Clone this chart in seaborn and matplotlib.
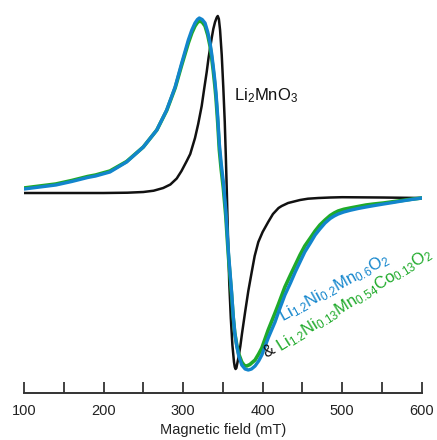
import numpy as np
import pandas as pd
import matplotlib
matplotlib.use("Agg")
import matplotlib.pyplot as plt
import seaborn as sns

# EPR derivative spectra (arbitrary units) vs magnetic field (mT)
li2mno3_field = [100, 150, 200, 230, 250, 263, 275, 284, 292, 298, 304.6, 309, 315,
                 319, 323.4, 326.5, 329.7, 332, 334, 336, 338, 340.2, 342.3, 343.6,
                 345, 346.5, 348.6, 350.6, 352.4, 353.7, 355, 356.5, 358, 360, 362,
                 364, 365, 366, 367, 368, 369.5, 372, 374, 378, 382, 386.3, 390,
                 394.6, 400, 403.5, 407, 410, 413, 416.5, 420, 424, 428, 432, 437,
                 447, 457, 470, 485, 500, 550, 600]
li2mno3_signal = [3, 3, 3, 3.3, 4, 5.3, 8, 11.5, 17.5, 25, 35, 42, 58,
                  72, 90, 107, 124, 138, 148, 158, 167, 174, 178.5, 180,
                  177, 166, 141, 108, 74, 41, 4, -42, -86, -122, -149,
                  -166, -171, -173, -172, -168, -162, -150, -138, -116, -95, -76, -60,
                  -46, -36, -31, -26, -22, -18, -15, -12, -10, -8.5, -7, -6,
                  -4, -2.7, -2, -1.5, -1.2, -1.5, -2]

lnmo_field = [100, 120, 140, 160, 180, 190, 208, 229, 250, 267, 279.4, 290, 298.3,
              306.6, 311, 315, 318, 320.4, 324, 327.6, 331, 333.9, 336, 338, 340,
              341.4, 343.6, 345.6, 348, 350.6, 353.7, 357, 361, 363, 365, 367.5,
              370, 373.8, 378, 382, 386, 390.5, 395, 399, 407, 415.6, 420, 428,
              435, 441, 447, 453, 460, 466, 472, 478.5, 485, 490, 495, 502, 510,
              520, 530, 540, 552, 563, 575, 587, 600]
lnmo_signal = [7, 9, 11, 14.5, 18.5, 20, 24, 34, 49, 66, 86, 109, 133,
               156, 166, 173, 176.5, 178, 176.5, 173, 164, 153, 142, 129, 115,
               103, 79, 52, 32, 14, -14, -56, -96, -120, -137, -150,
               -160, -169, -173, -174, -173, -170, -165, -159, -142, -126, -116, -99,
               -87, -76, -66, -56, -47, -39, -33, -27, -22.5, -20, -18, -16, -14.3,
               -12.5, -11, -9.6, -8, -6.6, -5, -3.5, -2]

lnmco_field = [100, 120, 140, 160, 180, 190, 208, 229, 250, 267, 279.4, 290, 298.3,
               306.6, 311, 315, 318, 320.4, 324, 327.6, 331, 333.9, 336, 338, 340,
               341.4, 343.6, 345.6, 348, 350.6, 353.7, 357, 361, 363, 365, 367.5,
               370, 373.8, 377, 380, 384, 390.5, 395, 399, 407, 415.6, 420, 428,
               435, 441, 447, 453, 460, 466, 472, 478.5, 485, 490, 495, 502, 510,
               520, 530, 540, 552, 563, 575, 587, 600]
lnmco_signal = [8, 10, 12, 15.5, 19.5, 21, 25, 34.5, 49, 66, 85.5, 108, 131,
                153, 163, 170, 173.5, 175, 174, 170, 161, 150, 138, 125, 110,
                98, 73, 46, 26, 8, -20, -60, -99, -121, -137, -149,
                -158, -166, -169.5, -170, -168.5, -164, -158, -152, -134, -117, -108, -91,
                -79, -69, -59, -50, -42, -35, -29, -24, -19.5, -17, -15, -13.3, -12,
                -10.5, -9, -8, -7, -5.8, -4.5, -3.2, -2]

tick_values = [100, 150, 200, 250, 300, 350, 400, 450, 500, 550, 600]
tick_labels = ["100", "", "200", "", "300", "", "400", "", "500", "", "600"]

BLACK = "#111111"
BLUE = "#1285cc"
GREEN = "#1faa2a"

sns.set_theme(style="white")
plt.rcParams["font.family"] = ["Liberation Sans", "DejaVu Sans"]
plt.rcParams["mathtext.fontset"] = "custom"
plt.rcParams["mathtext.rm"] = "Liberation Sans"
plt.rcParams["mathtext.it"] = "Liberation Sans"
plt.rcParams["mathtext.bf"] = "Liberation Sans:bold"

fig = plt.figure(figsize=(4.37, 4.40), dpi=100)
ax = fig.add_axes([0.0549, 0.1061, 0.9101, 0.8939])

df_black = pd.DataFrame({"field": li2mno3_field, "signal": li2mno3_signal})
df_green = pd.DataFrame({"field": lnmco_field, "signal": lnmco_signal})
df_blue = pd.DataFrame({"field": lnmo_field, "signal": lnmo_signal})

line_kw = dict(ax=ax, x="field", y="signal", estimator=None, sort=False)
sns.lineplot(data=df_black, color=BLACK, linewidth=1.8, **line_kw)
sns.lineplot(data=df_green, color=GREEN, linewidth=2.6, **line_kw)
sns.lineplot(data=df_blue, color=BLUE, linewidth=2.4, **line_kw)
for ln in ax.lines:
    ln.set_solid_joinstyle("round")
    ln.set_solid_capstyle("round")

ax.set_xlim(100, 600)
ax.set_ylim(-197.3, 196)

for side in ["left", "top", "right"]:
    ax.spines[side].set_visible(False)
ax.spines["bottom"].set_color("#333333")
ax.spines["bottom"].set_linewidth(1.4)

ax.set_yticks([])
ax.set_xticks(tick_values)
ax.set_xticklabels(tick_labels)
ax.tick_params(axis="x", direction="in", length=8, width=1.3, color="#333333",
               labelsize=10.5, labelcolor="#222222", pad=7.5, bottom=True)
ax.set_xlabel("Magnetic field (mT)", fontsize=10.5, color="#222222", labelpad=3.5)
ax.set_ylabel("")

ax.text(364, 96, r"Li$_2$MnO$_3$", fontsize=12, color=BLACK,
        ha="left", va="baseline")

ax.text(425.7, -126, r"Li$_{1.2}$Ni$_{0.2}$Mn$_{0.6}$O$_2$", fontsize=12,
        color=BLUE, rotation=29, rotation_mode="anchor",
        ha="left", va="baseline")
ax.text(404.3, -162, "&", fontsize=12, color=BLACK, rotation=31,
        rotation_mode="anchor", ha="left", va="baseline")
ax.text(423.1, -156, r"Li$_{1.2}$Ni$_{0.13}$Mn$_{0.54}$Co$_{0.13}$O$_2$",
        fontsize=12, color=GREEN, rotation=32, rotation_mode="anchor",
        ha="left", va="baseline")

fig.savefig("out.png", dpi=100)
